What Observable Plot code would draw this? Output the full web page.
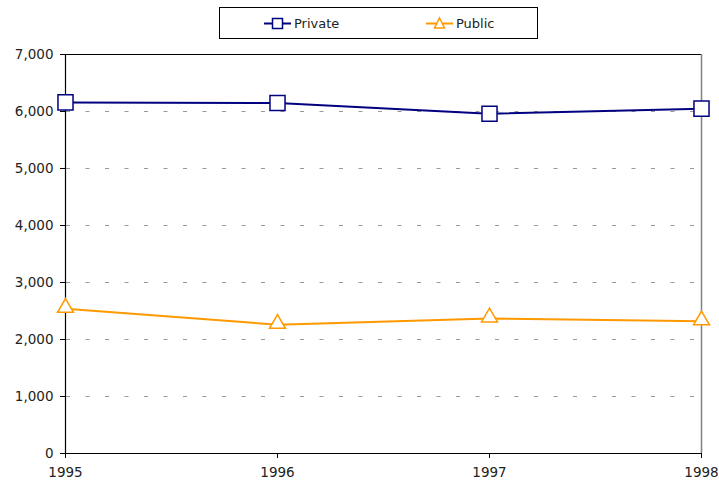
<!DOCTYPE html>
<html>
<head>
<meta charset="utf-8">
<script src="https://cdn.jsdelivr.net/npm/d3@7"></script>
<script src="https://cdn.jsdelivr.net/npm/@observablehq/plot@0.6"></script>
<style>
  body { margin: 0; background: #fff; font-family: "DejaVu Sans", sans-serif; }
  #wrap { position: relative; width: 719px; height: 487px; }
  #legend { position: absolute; left: 219px; top: 7px; width: 317px; height: 30px; border: 1px solid #000; background: #fff; font-size: 13px; color: #222; z-index: 2; }
  .item { position: absolute; top: 0; height: 30px; display: flex; align-items: center; }
  .item svg { margin-right: 3px; }
</style>
</head>
<body>
<div id="wrap">
  <div id="legend"></div>
  <div id="chart"></div>
</div>
<script>
const years = [1995, 1996, 1997, 1998];
const privateValues = [6160, 6150, 5960, 6050];
const publicValues = [2540, 2260, 2370, 2320];
const yTicks = [0, 1000, 2000, 3000, 4000, 5000, 6000, 7000];
const gridTicks = [1000, 2000, 3000, 4000, 5000, 6000];
const seriesNames = ["Private", "Public"];
const seriesColors = ["#000080", "#FF9900"];

const data = [];
years.forEach((y, i) => {
  data.push({year: y, value: privateValues[i], series: seriesNames[0]});
  data.push({year: y, value: publicValues[i], series: seriesNames[1]});
});
const priv = data.filter(d => d.series === "Private");
const pub = data.filter(d => d.series === "Public");

const chart = Plot.plot({
  width: 719,
  height: 487,
  marginLeft: 65,
  marginRight: 18,
  marginTop: 54,
  marginBottom: 34,
  style: { fontFamily: "DejaVu Sans, sans-serif", fontSize: "13px", color: "#222", background: "#fff", overflow: "visible" },
  x: { domain: [1995, 1998], type: "linear", label: null },
  y: { domain: [0, 7000], label: null },
  marks: [
    Plot.ruleY(gridTicks, { stroke: "#999", strokeWidth: 1, strokeDasharray: "4,15.5", strokeDashoffset: -1 }),
    Plot.ruleY([7000], { stroke: "#000", strokeWidth: 1 }),
    Plot.ruleX([1998], { stroke: "#808080", strokeWidth: 1.5 }),
    Plot.axisY({ ticks: yTicks, tickFormat: d3.format(","), tickSize: 5, tickPadding: 7, stroke: "#000", fill: "#222", fontSize: 13.5, label: null }),
    Plot.axisX({ ticks: years, tickFormat: d => String(d), tickSize: 5, tickPadding: 9, stroke: "#000", fill: "#222", fontSize: 13.5, label: null }),
    Plot.ruleX([1995], { stroke: "#000", strokeWidth: 1.2 }),
    Plot.ruleY([0], { stroke: "#000", strokeWidth: 1.2 }),
    Plot.line(priv, { x: "year", y: "value", stroke: seriesColors[0], strokeWidth: 2 }),
    Plot.line(pub, { x: "year", y: "value", stroke: seriesColors[1], strokeWidth: 2 }),
    Plot.dot(priv, { x: "year", y: "value", symbol: "square", r: 8.5, fill: "#fff", stroke: seriesColors[0], strokeWidth: 1.5 }),
    Plot.dot(pub, { x: "year", y: "value", symbol: "triangle", r: 5.9, fill: "#fff", stroke: seriesColors[1], strokeWidth: 1.5, dy: -1 })
  ]
});
document.getElementById("chart").appendChild(chart);

// Legend
const legend = document.getElementById("legend");
const legendPos = [44, 206];
seriesNames.forEach((name, i) => {
  const div = document.createElement("div");
  div.className = "item";
  div.style.left = legendPos[i] + "px";
  const sym = i === 0
    ? `<rect x="8.5" y="3.5" width="10" height="10" fill="#fff" stroke="${seriesColors[i]}" stroke-width="1.5"/>`
    : `<path d="M13.5,3 L18.5,13 L8.5,13 Z" fill="#fff" stroke="${seriesColors[i]}" stroke-width="1.5"/>`;
  div.innerHTML = `<svg width="27" height="17"><line x1="0" x2="27" y1="8.5" y2="8.5" stroke="${seriesColors[i]}" stroke-width="2"/>${sym}</svg><span>${name}</span>`;
  legend.appendChild(div);
});
</script>
</body>
</html>
